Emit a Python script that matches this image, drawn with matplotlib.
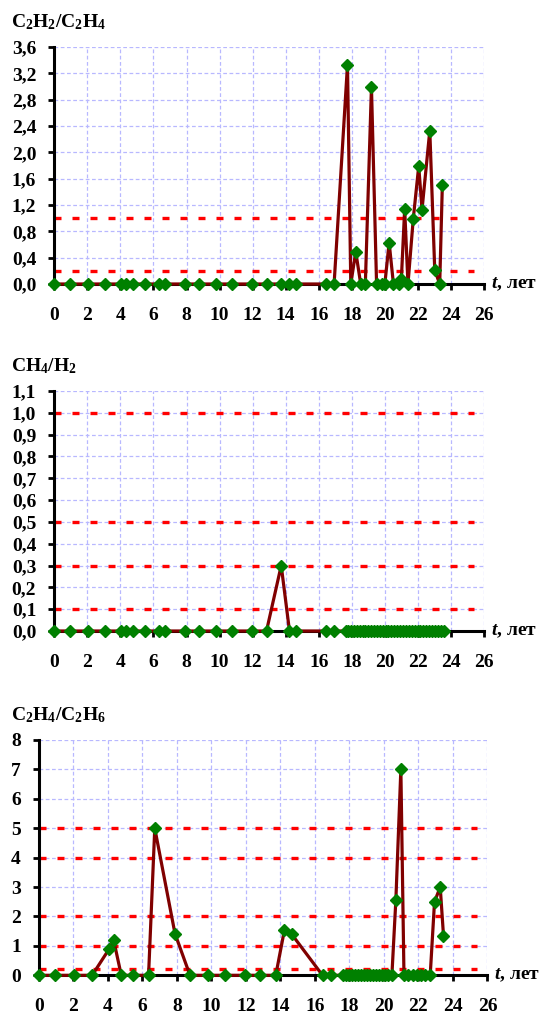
import numpy as np
import matplotlib
matplotlib.use("Agg")
import matplotlib.pyplot as plt

plt.rcParams['font.family'] = ['Liberation Serif', 'DejaVu Serif']
plt.rcParams['font.weight'] = 'bold'
plt.rcParams['mathtext.fontset'] = 'custom'
plt.rcParams['mathtext.rm'] = 'Liberation Serif:bold'
plt.rcParams['mathtext.it'] = 'Liberation Serif:italic:bold'
plt.rcParams['mathtext.bf'] = 'Liberation Serif:bold'

# sampling dates before the dense period (years), same for all ratios
t_early = [0, 0.93, 2.04, 3.09, 4.06, 4.34, 4.78, 5.47, 6.36, 6.72, 7.89,
           8.76, 9.81, 10.78, 11.96, 12.84, 13.73, 14.23, 14.65, 16.44, 16.93]

# C2H2/C2H4
t_c2h2 = [17.74, 17.94, 18.24, 18.54, 18.82, 19.19, 19.5, 19.8, 20.0, 20.26,
          20.52, 20.86, 21.0, 21.2, 21.4, 21.72, 22.05, 22.25, 22.72, 23.02,
          23.32, 23.48]
early_c2h2 = [0, 0, 0, 0, 0, 0, 0, 0, 0, 0, 0, 0, 0, 0, 0, 0, 0, 0, 0, 0, 0]
late_c2h2 = [3.33, 0, 0.49, 0, 0, 2.99, 0, 0, 0, 0.63, 0, 0, 0.08, 1.14, 0,
             0.99, 1.79, 1.13, 2.33, 0.21, 0, 1.51]

# CH4/H2
t_ch4 = [17.62, 17.8, 17.95, 18.12, 18.3, 18.48, 18.65, 18.82, 19.0, 19.18,
         19.35, 19.52, 19.7, 19.88, 20.05, 20.22, 20.4, 20.58, 20.75, 20.92,
         21.1, 21.28, 21.45, 21.62, 21.8, 21.98, 22.15, 22.32, 22.5, 22.68,
         22.85, 23.02, 23.2, 23.38, 23.55]
early_ch4 = [0, 0, 0, 0, 0, 0, 0, 0, 0, 0, 0, 0, 0, 0, 0, 0, 0.3, 0, 0, 0, 0]
late_ch4 = [0, 0, 0, 0, 0, 0, 0, 0, 0, 0, 0, 0, 0, 0, 0, 0, 0, 0, 0, 0,
            0, 0, 0, 0, 0, 0, 0, 0, 0, 0, 0, 0, 0, 0, 0]

# C2H4/C2H6
t_c2h4 = [17.62, 17.8, 17.95, 18.12, 18.3, 18.48, 18.65, 18.82, 19.0, 19.18,
          19.35, 19.52, 19.7, 19.88, 20.05, 20.22, 20.46, 20.69, 20.98, 21.16,
          21.4, 21.67, 21.9, 22.17, 22.4, 22.68, 22.93, 23.26, 23.45]
early_c2h4 = [0, 0, 0, 0, 0.88, 1.19, 0, 0, 0, 5.0, 1.42, 0, 0, 0, 0, 0, 0,
              1.53, 1.4, 0, 0]
late_c2h4 = [0, 0, 0, 0, 0, 0, 0, 0, 0, 0, 0, 0, 0, 0, 0, 0, 0, 2.56, 7.0,
             0, 0, 0, 0, 0, 0, 0, 2.5, 3.0, 1.35]

x_ticks = list(range(0, 27, 2))

panels = [
    dict(label='C$_2$H$_2$/C$_2$H$_4$', t=t_early + t_c2h2, v=early_c2h2 + late_c2h2,
         yticks=[0, 0.4, 0.8, 1.2, 1.6, 2.0, 2.4, 2.8, 3.2, 3.6],
         ylabels=['0,0', '0,4', '0,8', '1,2', '1,6', '2,0', '2,4', '2,8', '3,2', '3,6'],
         limits=[0.2, 1.0],
         rect=[54.3, 47, 484, 284]),
    dict(label='CH$_4$/H$_2$', t=t_early + t_ch4, v=early_ch4 + late_ch4,
         yticks=[0, 0.1, 0.2, 0.3, 0.4, 0.5, 0.6, 0.7, 0.8, 0.9, 1.0, 1.1],
         ylabels=['0,0', '0,1', '0,2', '0,3', '0,4', '0,5', '0,6', '0,7', '0,8',
                  '0,9', '1,0', '1,1'],
         limits=[0.1, 0.3, 0.5, 1.0],
         rect=[54.3, 391, 484, 631]),
    dict(label='C$_2$H$_4$/C$_2$H$_6$', t=t_early + t_c2h4, v=early_c2h4 + late_c2h4,
         yticks=[0, 1, 2, 3, 4, 5, 6, 7, 8],
         ylabels=['0', '1', '2', '3', '4', '5', '6', '7', '8'],
         limits=[0.2, 1, 2, 4, 5],
         rect=[38.8, 740, 487.5, 975.3]),
]

W, H = 546, 1016
fs = 14
fig = plt.figure(figsize=(W / 100, H / 100), dpi=100)

for p in panels:
    x0, y0, x1, y1 = p['rect']
    ax = fig.add_axes([x0 / W, 1 - y1 / H, (x1 - x0) / W, (y1 - y0) / H])
    ax.set_xlim(0, 26)
    ax.set_ylim(0, p['yticks'][-1])
    ax.set_axisbelow(True)
    ax.grid(True, color='#b8b8ff', lw=0.9, linestyle=(0, (3, 2)))

    for lv in p['limits']:
        ax.axhline(lv, xmin=0, xmax=25.4 / 26, color='#ff0000', lw=2.4,
                   dashes=(2.1, 3.3), zorder=2)

    ax.plot(p['t'], p['v'], color='#800000', lw=2.3, zorder=3, clip_on=False)
    ax.plot(p['t'], p['v'], linestyle='none', marker='D', ms=6.5,
            color='#008000', zorder=5, clip_on=False)

    for s in ['top', 'right']:
        ax.spines[s].set_visible(False)
    for s in ['left', 'bottom']:
        ax.spines[s].set_linewidth(2.2)
        ax.spines[s].set_color('black')

    ax.set_xticks(x_ticks)
    ax.set_xticklabels([str(v) for v in x_ticks])
    ax.set_yticks(p['yticks'])
    ax.set_yticklabels(p['ylabels'])
    ax.tick_params(axis='x', direction='out', length=4.5, width=2, pad=12,
                   labelsize=fs)
    ax.tick_params(axis='y', direction='out', length=4, width=2, pad=9,
                   labelsize=fs)
    for lab in ax.get_xticklabels() + ax.get_yticklabels():
        lab.set_fontweight('bold')

    fig.text(11 / W, 1 - (y0 - 25) / H, p['label'], fontsize=fs,
             fontweight='bold', ha='left', va='center')
    ax.annotate('$t$, лет', xy=(1, 0), xycoords='axes fraction',
                xytext=(5, 0), textcoords='offset points',
                fontsize=fs, fontweight='bold', ha='left', va='center')

fig.savefig('out.png', dpi=100)
